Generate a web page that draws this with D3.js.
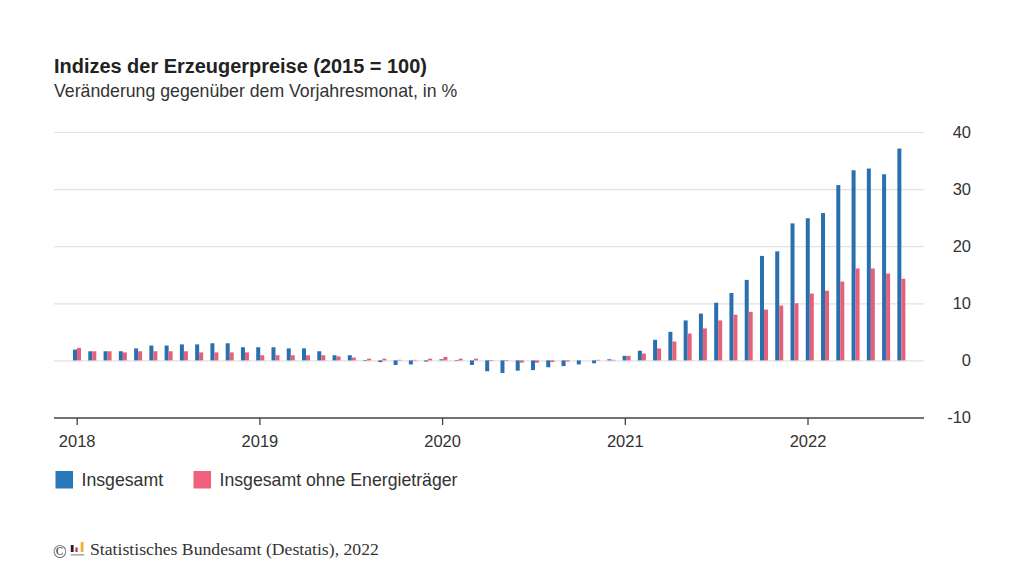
<!DOCTYPE html>
<html>
<head>
<meta charset="utf-8">
<script src="https://cdn.jsdelivr.net/npm/d3@7"></script>
<style>
  html, body { margin: 0; padding: 0; background: #fff; }
  text { font-family: "Liberation Sans", Arial, sans-serif; fill: #333; }
</style>
</head>
<body>
<div id="chart"></div>
<script>
// Jan 2018 - Jul 2022
var insgesamt = [
  1.9, 1.6, 1.6, 1.6, 2.1, 2.6, 2.6, 2.8, 2.8, 3.0, 3.0, 2.3,
  2.3, 2.3, 2.1, 2.1, 1.6, 0.9, 0.9, -0.1, -0.3, -0.8, -0.7, -0.2,
  0.2, -0.1, -0.8, -1.9, -2.2, -1.8, -1.7, -1.2, -1.0, -0.7, -0.5, 0.2,
  0.8, 1.7, 3.6, 5.0, 7.0, 8.2, 10.1, 11.8, 14.1, 18.3, 19.1, 24.0,
  24.9, 25.8, 30.7, 33.3, 33.6, 32.6, 37.1
];
var ohneEnergie = [
  2.2, 1.6, 1.6, 1.4, 1.6, 1.6, 1.6, 1.6, 1.4, 1.4, 1.4, 1.4,
  0.9, 0.9, 0.9, 0.9, 0.9, 0.7, 0.5, 0.3, 0.3, 0.1, 0.1, 0.3,
  0.6, 0.3, 0.3, -0.1, -0.1, -0.4, -0.4, -0.3, -0.2, 0.0, 0.1, 0.1,
  0.8, 1.2, 2.1, 3.3, 4.7, 5.6, 7.0, 8.0, 8.5, 8.9, 9.6, 10.0,
  11.7, 12.2, 13.8, 16.1, 16.1, 15.2, 14.3
];
var seriesNames = ["Insgesamt", "Insgesamt ohne Energieträger"];
var years = [2018, 2019, 2020, 2021, 2022];
var yTicks = [-10, 0, 10, 20, 30, 40];

var w = 1024;
var h = 576;
var blue = "#2a6fae";
var red = "#e4607b";

var svg = d3.select("#chart")
            .append("svg")
            .attr("width", w)
            .attr("height", h)
            .style("display", "block")
            .style("background-color", "white");

var months = d3.range(insgesamt.length);

var xBand = d3.scaleBand()
              .domain(months)
              .range([69.4, 909])
              .paddingInner(0.476)
              .paddingOuter(0.238);

var xSeries = d3.scaleBand()
                .domain([0, 1])
                .range([0, xBand.bandwidth()]);

// the axis ticks sit a little off the bars, so they get their own scale
var xTime = d3.scaleLinear()
              .domain([2018, 2022])
              .range([76.7, 807.5]);

var yScale = d3.scaleLinear()
               .domain([-10, 40])
               .range([417.5, 132]);

// Titles
svg.append("text")
   .attr("x", 54).attr("y", 73)
   .style("font-size", "19.95px")
   .style("font-weight", "bold")
   .style("fill", "#222")
   .text("Indizes der Erzeugerpreise (2015 = 100)");

svg.append("text")
   .attr("x", 54).attr("y", 97)
   .style("font-size", "17.7px")
   .text("Veränderung gegenüber dem Vorjahresmonat, in %");

// Gridlines
var grid = svg.append("g")
              .attr("transform", "translate(54,0)")
              .call(d3.axisRight(yScale)
                      .tickValues(yTicks.filter(function(d) { return d > -10; }))
                      .tickSize(870)
                      .tickFormat(""));
grid.select(".domain").remove();
grid.selectAll("line").attr("stroke", "#e2e2e2").attr("stroke-width", 1.2);

// Bars
var barData = [insgesamt, ohneEnergie];
var colors = [blue, red];

barData.forEach(function(values, s) {
    svg.append("g")
       .selectAll("rect")
       .data(values)
       .enter()
       .append("rect")
       .attr("x", function(d, i) {
           return xBand(i) + xSeries(s);
       })
       .attr("y", function(d) {
           return yScale(Math.max(d, 0));
       })
       .attr("width", xSeries.bandwidth())
       .attr("height", function(d) {
           return Math.abs(yScale(d) - yScale(0));
       })
       .attr("fill", colors[s]);
});

// Y axis labels
var yAxis = svg.append("g")
               .attr("transform", "translate(971,0)")
               .call(d3.axisLeft(yScale).tickValues(yTicks).tickSize(0).tickPadding(0).tickFormat(function(d) { return String(d); }));
yAxis.select(".domain").remove();
yAxis.selectAll("text")
     .style("font-family", "'Liberation Sans', Arial, sans-serif")
     .style("font-size", "16.5px")
     .style("fill", "#333");

// X axis
svg.append("line")
   .attr("x1", 54).attr("x2", 924)
   .attr("y1", 418).attr("y2", 418)
   .attr("stroke", "#444")
   .attr("stroke-width", 1.5);

var xAxis = svg.append("g")
               .attr("transform", "translate(0,418)")
               .call(d3.axisBottom(xTime).tickValues(years).tickSize(7).tickPadding(10).tickFormat(d3.format("d")));
xAxis.select(".domain").remove();
xAxis.selectAll("line").attr("stroke", "#444").attr("stroke-width", 1.3);
xAxis.selectAll("text")
     .style("font-family", "'Liberation Sans', Arial, sans-serif")
     .style("font-size", "16.5px")
     .style("fill", "#333");

// Legend
var legendX = [55.5, 193.5];
var legendColors = ["#2a78bb", "#f0617b"];
seriesNames.forEach(function(name, i) {
    svg.append("rect")
       .attr("x", legendX[i]).attr("y", 471)
       .attr("width", 17.5).attr("height", 17.5)
       .attr("fill", legendColors[i]);
    svg.append("text")
       .attr("x", legendX[i] + 26).attr("y", 486)
       .style("font-size", "17.7px")
       .text(name);
});

// Source line with the little bar logo
svg.append("text")
   .attr("x", 53).attr("y", 558)
   .style("font-family", "'Liberation Serif', serif")
   .style("font-size", "18px")
   .text("©");

var logo = svg.append("g").attr("transform", "translate(70,542)");
var logoBars = [[0.8, 7, 2.8, "#222"], [5.4, 4.5, 2.2, "#c8302c"], [10.7, 10, 2.8, "#e8b52c"]];
logoBars.forEach(function(b) {
    logo.append("rect")
        .attr("x", b[0]).attr("y", 10 - b[1])
        .attr("width", b[2]).attr("height", b[1])
        .attr("fill", b[3]);
});
logo.append("rect")
    .attr("x", 0.8).attr("y", 12)
    .attr("width", 13.5).attr("height", 1.6)
    .attr("fill", "#aaa");

svg.append("text")
   .attr("x", 90).attr("y", 555)
   .style("font-family", "'Liberation Serif', serif")
   .style("font-size", "17.7px")
   .text("Statistisches Bundesamt (Destatis), 2022");
</script>
</body>
</html>
